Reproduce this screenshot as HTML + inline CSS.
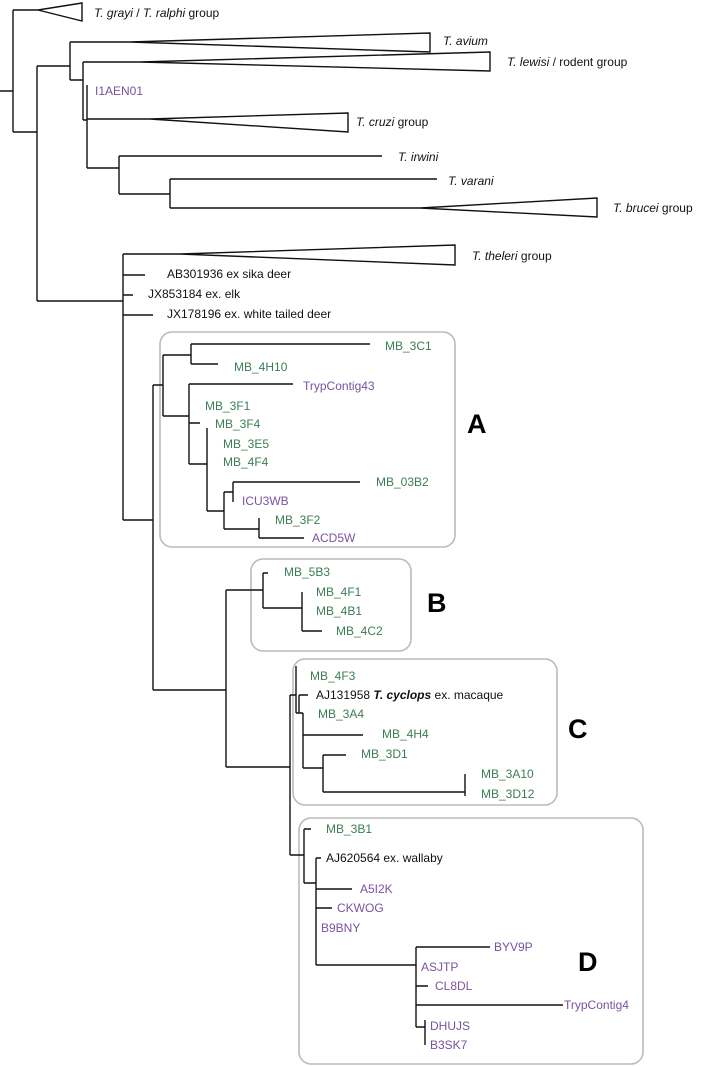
<!DOCTYPE html>
<html><head><meta charset="utf-8"><style>
html,body{margin:0;padding:0;background:#fff}
svg{display:block}
text{font-family:"Liberation Sans",sans-serif;font-size:12px;dominant-baseline:middle}
.g{fill:#3b7d55}.p{fill:#7b52a0}.k{fill:#111}
.big{font-size:27px;font-weight:bold;fill:#000}
</style></head><body>
<svg width="702" height="1067" viewBox="0 0 702 1067" xmlns="http://www.w3.org/2000/svg">
<g fill="none" stroke="#bbb" stroke-width="1.6">
<rect x="160" y="332" width="295" height="215" rx="12"/>
<rect x="251" y="559" width="160" height="92" rx="12"/>
<rect x="293" y="659" width="264" height="146" rx="12"/>
<rect x="299" y="818" width="344" height="246" rx="12"/>
</g>
<g fill="none" stroke="#111" stroke-width="1.4">
<path d="M0 91H13M13 10V132M13 10H38M13 132H37M37 66V301M37 66H70M70 42V80M70 80H83M83 62V120M87 85V118M83 120H87M87 118V168M87 168H119M119 156V194M119 156H382M119 194H170M170 179V208M170 179H437M170 208H420"/>
<path d="M70 42H130M83 62H140M87 119H150"/>
<path d="M38 10L82 3V21Z"/>
<path d="M130 42L430 33V52Z"/>
<path d="M140 62L490 52V71Z"/>
<path d="M150 119L348 113V132Z"/>
<path d="M420 208L597 198V217Z"/>
<path d="M180 254L455 245V265Z"/>
<path d="M37 301H123M123 254V520M123 254H180M123 275H145M123 295H133M123 315H153M123 520H153M153 385V690"/>
<path d="M153 385H163M163 355V416M163 355H191M191 344V364M191 344H370M191 364H218M163 416H189M189 384V464M189 384H293M189 423H200M189 464H207M207 428V511M207 511H224M224 492V529M224 492H233M233 482V502M233 482H360M224 529H259M259 518V538M259 538H304"/>
<path d="M153 690H226M226 590V767M226 590H263M263 573V608M263 573H268M263 608H302M302 592V631M302 631H322"/>
<path d="M226 767H290M290 695V855M290 695H296M296 666V713M296 713H303M299 695H308M299 695V713M303 713V768M303 735H363M303 768H323M323 755V792M323 755H346M323 792H465M465 774V796"/>
<path d="M290 855H304M304 829V883M304 829H311M304 883H316M316 858V965M316 858H321M316 889H352M316 908H332M316 965H416M416 947V1027M416 947H490M416 986H428M416 1005H563M416 1027H425M425 1020V1045"/>
</g>
<text x="94" y="14" class="k"><tspan font-style="italic">T. grayi</tspan> / <tspan font-style="italic">T. ralphi</tspan>  group</text>
<text x="443" y="42" class="k" font-style="italic">T. avium</text>
<text x="507" y="63" class="k"><tspan font-style="italic">T. lewisi</tspan> / rodent group</text>
<text x="95" y="92" class="p">I1AEN01</text>
<text x="356" y="123" class="k" font-size="13"><tspan font-style="italic">T. cruzi</tspan>  group</text>
<text x="398" y="158" class="k" font-style="italic">T. irwini</tspan></text>
<text x="448" y="182" class="k" font-style="italic">T. varani</text>
<text x="613" y="209" class="k"><tspan font-style="italic">T. brucei</tspan> group</text>
<text x="472" y="257" class="k"><tspan font-style="italic">T. theleri</tspan> group</text>
<text x="167" y="275" class="k">AB301936 ex sika deer</text>
<text x="148" y="295" class="k">JX853184 ex. elk</text>
<text x="167" y="315" class="k">JX178196  ex. white tailed deer</text>
<text x="385" y="347" class="g">MB_3C1</text>
<text x="234" y="368" class="g">MB_4H10</text>
<text x="303" y="387" class="p">TrypContig43</text>
<text x="205" y="407" class="g">MB_3F1</text>
<text x="215" y="425" class="g">MB_3F4</text>
<text x="223" y="445" class="g">MB_3E5</text>
<text x="223" y="463" class="g">MB_4F4</text>
<text x="376" y="483" class="g">MB_03B2</text>
<text x="242" y="502" class="p">ICU3WB</text>
<text x="275" y="521" class="g">MB_3F2</text>
<text x="312" y="539" class="p">ACD5W</text>
<text x="467" y="426" class="big">A</text>
<text x="284" y="573" class="g">MB_5B3</text>
<text x="316" y="593" class="g">MB_4F1</text>
<text x="316" y="612" class="g">MB_4B1</text>
<text x="336" y="632" class="g">MB_4C2</text>
<text x="427" y="605" class="big">B</text>
<text x="310" y="677" class="g">MB_4F3</text>
<text x="316" y="696" class="k" font-size="13">AJ131958 <tspan font-style="italic" font-weight="bold">T. cyclops</tspan> ex. macaque</text>
<text x="318" y="715" class="g">MB_3A4</text>
<text x="382" y="735" class="g">MB_4H4</text>
<text x="361" y="755" class="g">MB_3D1</text>
<text x="481" y="775" class="g">MB_3A10</text>
<text x="481" y="795" class="g">MB_3D12</text>
<text x="568" y="731" class="big">C</text>
<text x="326" y="830" class="g">MB_3B1</text>
<text x="326" y="859" class="k">AJ620564 ex. wallaby</text>
<text x="360" y="890" class="p">A5I2K</text>
<text x="337" y="909" class="p">CKWOG</text>
<text x="321" y="929" class="p">B9BNY</text>
<text x="494" y="948" class="p">BYV9P</text>
<text x="421" y="968" class="p">ASJTP</text>
<text x="435" y="987" class="p">CL8DL</text>
<text x="564" y="1006" class="p">TrypContig4</text>
<text x="430" y="1027" class="p">DHUJS</text>
<text x="430" y="1046" class="p">B3SK7</text>
<text x="578" y="964" class="big">D</text>
</svg>
</body></html>
